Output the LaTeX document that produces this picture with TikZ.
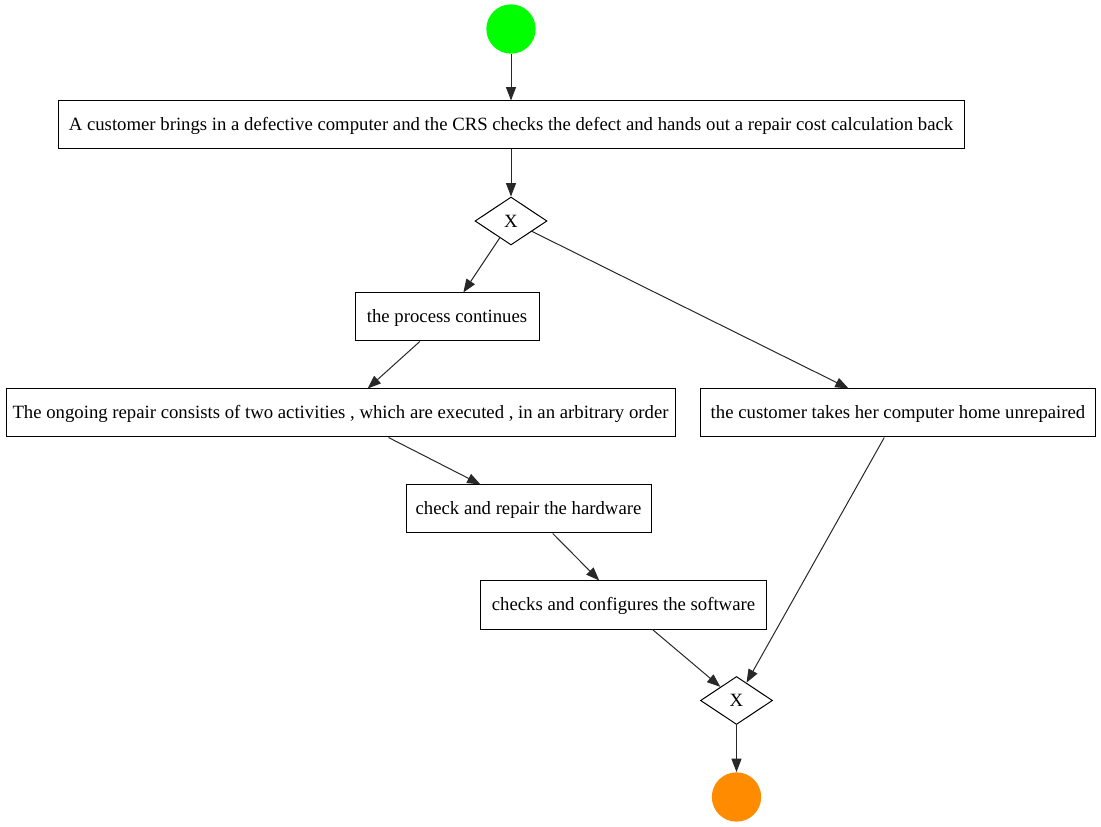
\documentclass[tikz,border=0pt]{standalone}
\usepackage{fontspec}
\setmainfont{Liberation Serif}
\usetikzlibrary{shapes.geometric,arrows.meta}
\definecolor{startgreen}{HTML}{00FF00}
\definecolor{endorange}{HTML}{FF8C00}
\definecolor{edgegray}{HTML}{282828}
\begin{document}
\begin{tikzpicture}[x=0.75pt,y=-0.75pt,
  every node/.style={font=\fontsize{14.05}{17}\selectfont},
  task/.style={draw=black,line width=0.75pt,rectangle,minimum height=36pt,inner sep=0pt,fill=white,text depth=1pt},
  gateway/.style={draw=black,line width=0.75pt,diamond,minimum width=54pt,minimum height=36pt,inner sep=0pt},
  event/.style={circle,draw=none,minimum size=37pt,inner sep=0pt},
  flow/.style={draw=edgegray,line width=0.75pt,-{Triangle[length=10pt,width=7.5pt]}}]
\useasboundingbox (0,0) rectangle (1101,827);

\node[event,fill=startgreen] (start) at (511,29) {};
\node[task,minimum width=679.5pt] (bring) at (511,125)
  {A customer brings in a defective computer and the CRS checks the defect and hands out a repair cost calculation back};
\node[gateway] (split) at (511,221) {X};
\node[task,minimum width=138pt] (cont) at (447,317) {the process continues};
\node[task,minimum width=501.75pt] (ongoing) at (340.5,413)
  {The ongoing repair consists of two activities , which are executed , in an arbitrary order};
\node[task,minimum width=296.25pt] (home) at (898,413) {the customer takes her computer home unrepaired};
\node[task,minimum width=183.75pt] (hw) at (528.5,509) {check and repair the hardware};
\node[task,minimum width=214.5pt] (sw) at (623.5,605) {checks and configures the software};
\node[gateway] (join) at (736.5,700.5) {X};
\node[event,fill=endorange] (end) at (736.5,797) {};

\draw[flow] (start) -- (bring);
\draw[flow] (bring) -- (split);
\draw[flow] (split) -- (cont);
\draw[flow] (split) -- (home);
\draw[flow] (cont) -- (ongoing);
\draw[flow] (ongoing) -- (hw);
\draw[flow] (hw) -- (sw);
\draw[flow] (sw) -- (join);
\draw[flow] (home) -- (join);
\draw[flow] (join) -- (end);
\end{tikzpicture}
\end{document}
